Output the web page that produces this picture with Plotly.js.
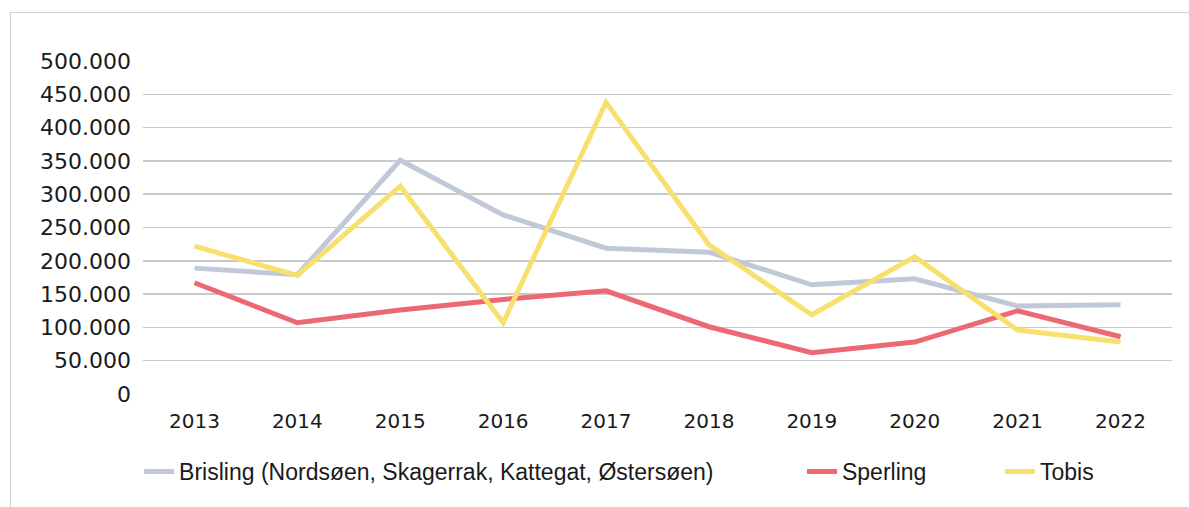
<!DOCTYPE html>
<html>
<head>
<meta charset="utf-8">
<script src="https://cdn.plot.ly/plotly-3.0.1.min.js"></script>
<style>
  html, body { margin: 0; padding: 0; background: #fff; }
  #wrap { position: relative; width: 1189px; height: 507px; overflow: hidden; }
  #chart { position: absolute; left: 0; top: 0; width: 1189px; height: 507px; }
  #frame { position: absolute; left: 10px; top: 12px; right: -5px; bottom: -5px;
           border-left: 1px solid #d0d0d0; border-top: 1px solid #d0d0d0; pointer-events: none; }
</style>
</head>
<body>
<div id="wrap">
  <div id="chart"></div>
  <div id="frame"></div>
</div>
<script>
const years = ['2013','2014','2015','2016','2017','2018','2019','2020','2021','2022'];
const brisling = [189000, 179000, 351000, 269000, 219000, 213000, 164000, 173000, 132000, 134000];
const sperling = [167000, 107000, 126000, 142000, 155000, 101000, 62000, 78000, 125000, 86000];
const tobis    = [222000, 178000, 312000, 107000, 438000, 224000, 119000, 206000, 96000, 78000];
const seriesNames = ['Brisling (Nordsøen, Skagerrak, Kattegat, Østersøen)', 'Sperling', 'Tobis'];
const yTicks = [0, 50000, 100000, 150000, 200000, 250000, 300000, 350000, 400000, 450000, 500000];

const colors = ['#c0c8da', '#ec6872', '#f8e06f'];
const legendIds = ['legend', 'legend2', 'legend3'];
const data = [brisling, sperling, tobis].map((vals, i) => ({
  type: 'scatter', mode: 'lines', x: years, y: vals, name: seriesNames[i],
  legend: legendIds[i],
  line: { color: colors[i], width: 5, shape: 'linear' }
}));

const legendFont = { family: 'Liberation Sans', size: 23, color: '#1a1a1a' };
function leg(x) {
  return { orientation: 'h', xref: 'container', yref: 'container',
           x: x, xanchor: 'left', y: 0.07, yanchor: 'middle',
           font: legendFont, itemwidth: 30, bgcolor: 'rgba(0,0,0,0)' };
}

const layout = {
  width: 1189, height: 507,
  margin: { l: 143, r: 17, t: 61, b: 113 },
  paper_bgcolor: '#ffffff', plot_bgcolor: '#ffffff',
  separators: ',.',
  font: { family: 'DejaVu Sans', size: 20, color: '#1a1a1a' },
  xaxis: {
    type: 'category', range: [-0.5, 9.5],
    showgrid: false, zeroline: false, showline: false, ticks: '',
    tickfont: { family: 'DejaVu Sans', size: 20, color: '#1a1a1a' },
    ticklabelstandoff: 13
  },
  yaxis: {
    range: [0, 500000], tickvals: yTicks, tickformat: ',d',
    showgrid: true, gridcolor: '#c9c9c9', gridwidth: 1.5,
    zeroline: false, showline: false, ticks: '',
    tickfont: { family: 'DejaVu Sans', size: 22, color: '#1a1a1a' },
    ticklabelstandoff: 11
  },
  showlegend: true,
  legend: leg(0.117),
  legend2: leg(0.6745),
  legend3: leg(0.841)
};

Plotly.newPlot('chart', data, layout, { displayModeBar: false, staticPlot: true });
</script>
</body>
</html>
